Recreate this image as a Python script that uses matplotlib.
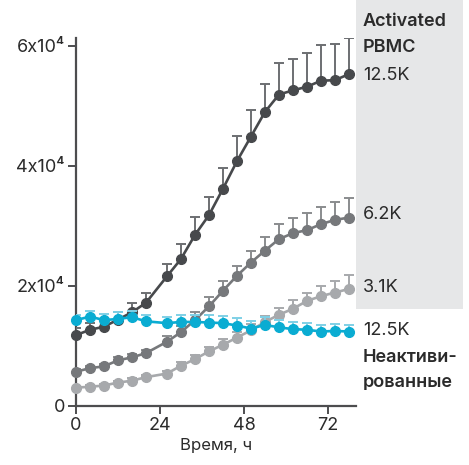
import numpy as np
import matplotlib
matplotlib.use('Agg')
import matplotlib.pyplot as plt
from matplotlib.patches import Rectangle

plt.rcParams['font.family'] = ['Inter', 'DejaVu Sans']

# time points, h
hours = [0, 4, 8, 12, 16, 20, 26, 30, 34, 38, 42, 46, 50, 54, 58, 62, 66, 70, 74, 78]

# activated PBMC, 12.5K / 6.2K / 3.1K
act_125 = [11800, 12700, 13200, 14400, 15600, 17200, 21600, 24500, 28500, 31800,
           36200, 40800, 44900, 49000, 51900, 52600, 53200, 54200, 54300, 55300]
act_125_err = [1200, 1100, 1100, 1300, 1600, 1600, 2000, 2500, 3000, 3000,
               3500, 4200, 4400, 4700, 5300, 5200, 5600, 6000, 6100, 6000]
act_62 = [5700, 6300, 6600, 7600, 8100, 8800, 10700, 12300, 14300, 16600,
          19200, 21700, 23900, 25900, 27800, 28800, 29300, 30300, 31000, 31400]
act_62_err = [400, 400, 400, 500, 500, 600, 900, 1100, 1300, 1500,
              1700, 1700, 2000, 2300, 2600, 2600, 2900, 2800, 3000, 3200]
act_31 = [3050, 3200, 3400, 3900, 4200, 4800, 5400, 6700, 7800, 9100,
          10200, 11400, 12600, 14000, 15200, 16200, 17500, 18300, 18900, 19500]
act_31_err = [300, 300, 300, 300, 400, 400, 500, 600, 700, 800,
              900, 1000, 1000, 1000, 1200, 1400, 1400, 1700, 1900, 2300]
# non-activated, 12.5K
rest_125 = [14300, 14900, 14300, 14500, 14800, 14100, 13800, 14000, 14000, 13900,
            13800, 13400, 12900, 13500, 13100, 12800, 12700, 12400, 12500, 12400]
rest_125_err = [900, 1000, 1000, 1100, 1100, 1100, 1100, 1200, 1200, 1200,
                1200, 1200, 1200, 1300, 1300, 1200, 1200, 1100, 1100, 1100]

yticks = [0, 20000, 40000, 60000]
ytick_labels = ['0', '2x10⁴', '4x10⁴', '6x10⁴']
xticks = [0, 24, 48, 72]

fig = plt.figure(figsize=(4.69, 4.65), dpi=100)
# grey band behind right labels
fig.patches.append(Rectangle((0.759, 0.335), 0.228, 0.665, transform=fig.transFigure,
                             facecolor='#e6e7e8', edgecolor='none', zorder=0))
ax = fig.add_axes([0.162, 0.127, 0.597, 0.791])
ax.patch.set_alpha(0)

series = [
    (act_31, act_31_err, '#a7a9ac', '#a7a9ac'),
    (act_62, act_62_err, '#76787b', '#8a8c8e'),
    (act_125, act_125_err, '#47494c', '#6d6f72'),
    (rest_125, rest_125_err, '#0aacd2', '#7fd0e6'),
]
for i, (vals, err, col, ecol) in enumerate(series):
    ax.errorbar(hours, vals, yerr=[np.zeros(len(err)), err], fmt='none',
                ecolor=ecol, elinewidth=1.4, capsize=3.5, capthick=1.4, zorder=2 + i * 2)
    ax.plot(hours, vals, color=col, lw=1.9, marker='o', ms=7, zorder=3 + i * 2,
            clip_on=False)

ax.set_xlim(0, 80)
ax.set_ylim(0, 61300)
ax.set_xticks(xticks)
ax.set_yticks(yticks)
ax.set_yticklabels(ytick_labels)
for s in ['top', 'right']:
    ax.spines[s].set_visible(False)
for s in ['left', 'bottom']:
    ax.spines[s].set_color('#4d4d4f')
    ax.spines[s].set_linewidth(1.6)
ax.tick_params(length=6, width=1.4, color='#4d4d4f', labelsize=13,
               labelcolor='#2b2b2b', pad=2)
ax.set_xlabel('Время, ч', fontsize=12, color='#2b2b2b', labelpad=3)

# right-hand labels
tx = 363 / 469
def label(y_px, s, bold=False):
    fig.text(tx, 1 - y_px / 465, s, fontsize=13, color='#2b2b2b', va='center',
             ha='left', fontweight='semibold' if bold else 'normal')

label(21, 'Activated', True)
label(48, 'PBMC', True)
label(75, '12.5K')
label(214, '6.2K')
label(287, '3.1K')
label(330, '12.5K')
label(357, 'Неактиви-', True)
label(383, 'рованные', True)

fig.savefig('out.png', dpi=100)
